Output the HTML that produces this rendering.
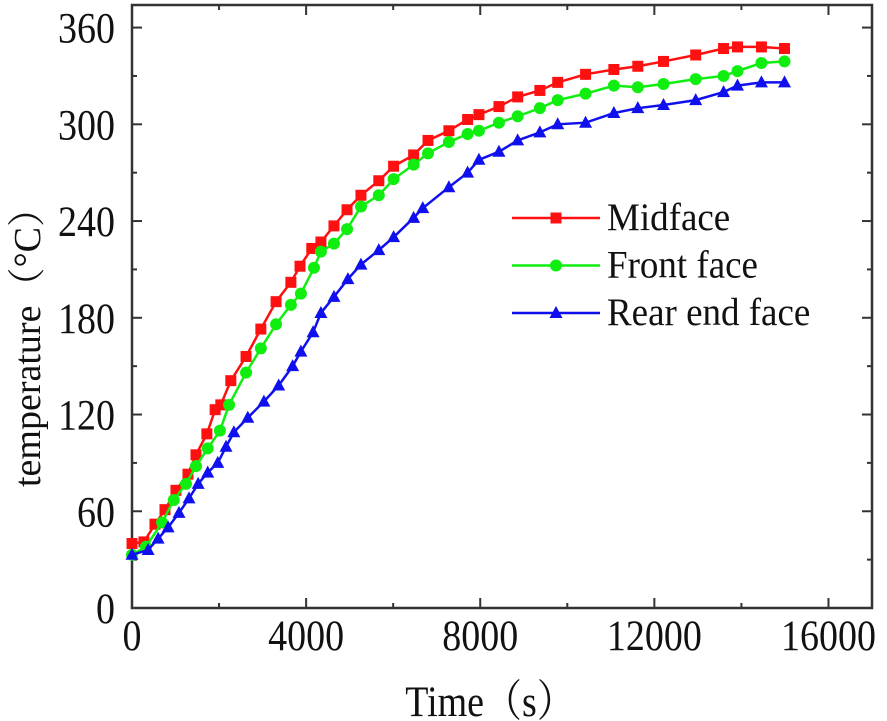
<!DOCTYPE html>
<html><head><meta charset="utf-8"><style>
html,body{margin:0;padding:0;background:#fff;}
svg{display:block;font-family:"Liberation Serif","Noto Serif CJK SC",serif;}
</style></head><body>
<svg id="chart" width="887" height="721" viewBox="0 0 887 721"></svg>
<script>
const redT=[0,275,528,758,1010,1286,1470,1720,1910,2040,2270,2620,2960,3310,3650,3860,4130,4340,4640,4940,5260,5670,6010,6470,6800,7280,7710,7970,8430,8860,9370,9780,10420,11070,11620,12210,12950,13590,13910,14460,14990];
const redV=[40,41,52,61,73,83,95,108,123,126,141,156,173,190,202,212,223,227,237,247,256,265,274,281,290,296,303,306,311,317,321,326,331,334,336,339,343,347,348,348,347];
const greenT=[0,320,690,960,1240,1470,1740,2020,2230,2620,2960,3310,3650,3880,4180,4340,4640,4940,5260,5670,6010,6470,6800,7280,7710,7970,8430,8860,9370,9780,10420,11070,11620,12210,12950,13590,13910,14460,14990];
const greenV=[33,38,53,67,77,88,99,110,126,146,161,176,188,195,211,221,226,235,249,256,266,275,282,289,294,296,301,305,310,315,319,324,323,325,328,330,333,338,339];
const blueT=[0,370,600,830,1080,1310,1520,1740,1970,2160,2340,2660,3030,3370,3690,3880,4160,4340,4640,4960,5260,5670,6010,6470,6680,7280,7710,7970,8430,8860,9370,9780,10420,11070,11620,12210,12950,13590,13910,14460,14990];
const blueV=[33,36,43,50,59,68,77,84,90,100,109,118,128,138,150,159,171,183,193,204,213,222,230,242,248,261,270,278,283,290,295,300,301,307,310,312,315,320,324,326,326];
const xTicks=[0,4000,8000,12000,16000];
const yTicks=[0,60,120,180,240,300,360];
const xTickLabels=["0","4000","8000","12000","16000"];
const yTickLabels=["0","60","120","180","240","300","360"];
const seriesNames=["Midface","Front face","Rear end face"];

const NS="http://www.w3.org/2000/svg";
const svg=document.getElementById('chart');
const L=132,R=872,T=5,B=608,X0=0,X1=17000,Y0=0,Y1=374;
const xs=v=>L+(v-X0)/(X1-X0)*(R-L);
const ys=v=>B-(v-Y0)/(Y1-Y0)*(B-T);
function mk(tag,attrs,parent){const e=document.createElementNS(NS,tag);for(const k in attrs)e.setAttribute(k,attrs[k]);(parent||svg).appendChild(e);return e;}

const tg=mk('g',{stroke:'#333','stroke-width':2});


for(let v=0;v<=X1;v+=2000){const x=xs(v);const len=(v%4000===0)?10:5;
 mk('line',{x1:x,y1:B,x2:x,y2:B-len},tg);mk('line',{x1:x,y1:T,x2:x,y2:T+len},tg);}
for(let v=0;v<=Y1;v+=30){const y=ys(v);const len=(v%60===0)?10:5;
 mk('line',{x1:L,y1:y,x2:L+len,y2:y},tg);mk('line',{x1:R,y1:y,x2:R-len,y2:y},tg);}
const fr=mk('rect',{x:L,y:T,width:R-L,height:B-T,fill:'none',stroke:'#333','stroke-width':2.5});



xTicks.forEach((v,i)=>{const t=mk('text',{x:0,y:0,transform:`translate(${xs(v)},650) scale(1,1.15)`,'text-anchor':'middle','font-size':38,fill:'#111'});t.textContent=xTickLabels[i];
 
 });
yTicks.forEach((v,i)=>{const t=mk('text',{x:0,y:0,transform:`translate(115,${ys(v)+15}) scale(1,1.15)`,'text-anchor':'end','font-size':38,fill:'#111'});t.textContent=yTickLabels[i];
 
 });
const xt=mk('text',{x:0,y:0,transform:'translate(490,716) scale(1,1.15)','text-anchor':'middle','font-size':38,fill:'#111'});xt.textContent='Time（s）';


const yt=mk('text',{x:0,y:0,'text-anchor':'middle','font-size':38,fill:'#111',transform:'translate(40,338) rotate(-90)'});yt.textContent='temperature（°C）';



function marker(g,type,x,y,c){
 if(type==='sq')mk('rect',{x:x-5.5,y:y-5.5,width:11,height:11,fill:c},g);
 else if(type==='ci')mk('circle',{cx:x,cy:y,r:6,fill:c},g);
 else mk('polygon',{points:`${x},${y-7} ${x+6.5},${y+5} ${x-6.5},${y+5}`,fill:c},g);
}
const series=[[redT,redV,'#ff1010','sq'],[greenT,greenV,'#10ee10','ci'],[blueT,blueV,'#1010ee','tr']];
const sNames=['series-midface','series-front-face','series-rear-end-face'];
series.forEach((s,i)=>{const [ts,vs,c,m]=s;
 const g=mk('g',{});
 
 
 mk('polyline',{points:ts.map((t,j)=>xs(t)+','+ys(vs[j])).join(' '),fill:'none',stroke:c,'stroke-width':2.5},g);
 ts.forEach((t,j)=>marker(g,m,xs(t),ys(vs[j]),c));
 const ly=218+i*47.5;
 const lg=mk('g',{});
 
 
 mk('line',{x1:512,y1:ly,x2:600,y2:ly,stroke:c,'stroke-width':2.5},lg);
 marker(lg,m,556,ly,c);
 const tx=mk('text',{x:0,y:0,transform:`translate(607,${ly+12}) scale(1,1.05)`,'font-size':37,fill:'#111'},lg);tx.textContent=seriesNames[i];
});
</script>
</body></html>
